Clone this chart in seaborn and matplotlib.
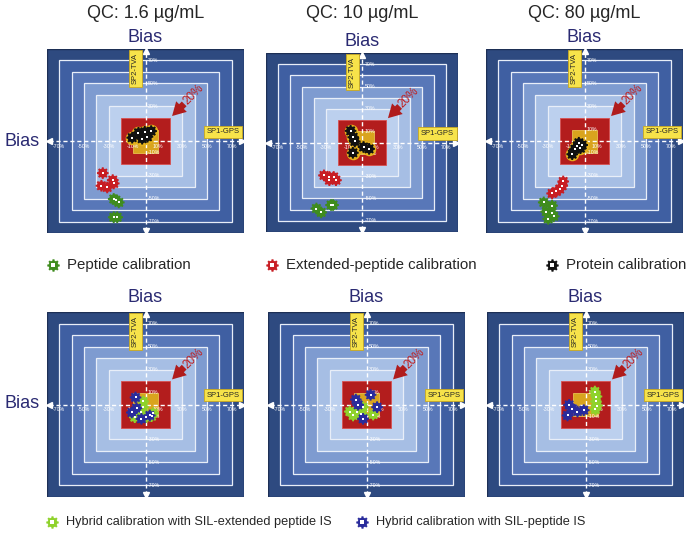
"""
  Bias target plots for the three QC levels, two calibration families
"""

import numpy as np
import matplotlib

matplotlib.use("Agg")
import matplotlib.pyplot as plt
import matplotlib.patches as mpatches
import seaborn as sns
import pandas as pd

W, H = 688, 535

QC_LEVELS = ["QC: 1.6 \u00b5g/mL", "QC: 10 \u00b5g/mL", "QC: 80 \u00b5g/mL"]
TICKS_X = [-70, -50, -30, -10, 10, 30, 50, 70]
TICKS_Y = [70, 50, 30, 10, -10, -30, -50, -70]
BAND_LEVELS = [80, 70, 60, 50, 40, 30]

# top row: peptide / extended-peptide / protein calibration (bias %, SP1-GPS vs SP2-TVA)
PEP_X = [[-25.8, -21.7, -24.0, -25.8, -23.0], [-38.0, -34.0, -25.8, -24.1], [-33.1, -26.3, -31.1, -26.8, -25.0, -29.5]]
PEP_Y = [[-50.4, -53.4, -51.5, -66.3, -66.3], [-59.0, -62.5, -55.9, -55.9], [-53.4, -56.2, -61.4, -62.5, -65.5, -67.7]]
EXT_X = [[-34.7, -26.6, -25.8, -35.8, -31.1], [-31.7, -27.2, -23.6, -21.7, -27.2], [-26.3, -22.8, -20.1, -18.1, -17.3]]
EXT_Y = [[-27.9, -34.0, -36.9, -38.9, -40.4], [-29.4, -30.8, -30.8, -33.7, -33.7], [-45.6, -43.9, -41.8, -38.9, -35.2]]
PROT_X = [[-10.8, -5.7, -0.6, 4.6, -2.7, 1.6], [-9.5, -7.3, -6.0, 1.3, 5.9, -7.6], [-10.0, -7.9, -5.9, -3.3, -4.6, -1.9]]
PROT_Y = [[2.9, 7.2, 8.0, 8.6, 2.0, 3.7], [10.4, 4.7, 0.9, -4.0, -5.7, -9.2], [-11.5, -7.2, -4.3, -6.3, -1.5, -3.5]]

# bottom row: hybrid calibrations
HEXT_X = [[-1.9, -1.9, -3.3, 0.8, 6.2, 4.9, -8.7], [-2.8, -8.1, -10.9, -4.1, 5.4, -13.6], [7.6, 8.9, 8.4, 9.4, 8.1]]
HEXT_Y = [[2.6, -2.3, -6.7, -11.0, -7.5, -10.1, -11.0], [-2.3, -6.1, -9.5, -8.0, -8.7, -6.1], [11.2, 6.9, 2.6, -0.9, -4.3]]
HPEP_X = [[-8.1, -7.3, -11.1, -3.3, 3.5], [3.3, -8.7, -6.8, 8.6, -2.8], [-13.3, -10.6, -6.5, -1.4, -14.6]]
HPEP_Y = [[6.1, -3.2, -6.9, -12.4, -9.5], [8.4, 4.3, -0.3, -2.3, -12.4], [-0.3, -3.7, -6.1, -4.9, -9.5]]

LABELS_TOP = ["Peptide calibration", "Extended-peptide calibration", "Protein calibration"]
LABELS_BOTTOM = ["Hybrid calibration with SIL-extended peptide IS", "Hybrid calibration with SIL-peptide IS"]

COLORS = {
    "Peptide calibration": "#3f8c1e",
    "Extended-peptide calibration": "#c81e24",
    "Protein calibration": "#111111",
    "Hybrid calibration with SIL-extended peptide IS": "#8fd22c",
    "Hybrid calibration with SIL-peptide IS": "#2a2c9c",
}
BAND_COLORS = ["#2e4a80", "#3f5fa2", "#5877b8", "#7e9bd0", "#a6bee4", "#bcd0ee"]
NAVY = "#2a2a72"

# panel boxes in pixels: left, top, width, height
PANELS_TOP = [(47, 49, 197, 184), (266, 53, 192, 179), (486, 49, 197, 184)]
PANELS_BOTTOM = [(47, 312, 197, 185), (268, 312, 197, 185), (487, 312, 197, 185)]


def gear_marker(n=8):
    """Cog-wheel outline used for the calibration symbols"""
    step = 2 * np.pi / n
    pts = []
    for i in range(n):
        a = i * step
        pts += [
            (np.cos(a - 0.2 * step), np.sin(a - 0.2 * step)),
            (np.cos(a + 0.2 * step), np.sin(a + 0.2 * step)),
            (0.78 * np.cos(a + 0.3 * step), 0.78 * np.sin(a + 0.3 * step)),
            (0.78 * np.cos(a + 0.7 * step), 0.78 * np.sin(a + 0.7 * step)),
        ]
    pts.append(pts[0])
    return pts


GEAR = gear_marker()


def add_panel(fig, box):
    x0, y0, w, h = box
    ax = fig.add_axes([x0 / W, 1 - (y0 + h) / H, w / W, h / H])
    ax.set_xlim(-80, 80)
    ax.set_ylim(-80, 80)
    ax.axis("off")

    for lvl, col in zip(BAND_LEVELS, BAND_COLORS):
        edge = "#1d2f55" if lvl == 80 else "#e8eef8"
        ax.add_patch(mpatches.Rectangle((-lvl, -lvl), 2 * lvl, 2 * lvl, facecolor=col,
                                        edgecolor=edge, lw=1.0 if lvl == 80 else 0.9, zorder=1))
    ax.add_patch(mpatches.Rectangle((-20, -20), 40, 40, facecolor="#b31d1d", edgecolor="#d85050", lw=0.6, zorder=2))
    ax.add_patch(mpatches.Rectangle((-10, -10), 20, 20, facecolor="#d9a41e", edgecolor="#e8c050", lw=0.6, zorder=3))

    # dashed cross
    ax.plot([-78, 78], [0, 0], color="white", lw=1.0, ls=(0, (3, 2)), zorder=4)
    ax.plot([0, 0], [-78, 78], color="white", lw=1.0, ls=(0, (3, 2)), zorder=4)
    ax.plot([-78], [0], marker="<", color="white", ms=4, zorder=4)
    ax.plot([78], [0], marker=">", color="white", ms=4, zorder=4)
    ax.plot([0], [-78], marker="v", color="white", ms=4, zorder=4)
    ax.plot([0], [78], marker="^", color="white", ms=4, zorder=4)

    for t in TICKS_X:
        ax.text(t, -4.5, f"{t}%", color="white", fontsize=3.8, ha="center", va="center", zorder=5)
    for t in TICKS_Y:
        ax.text(2, t, f"{t}%", color="white", fontsize=3.8, ha="left", va="center", zorder=5)

    box_style = dict(boxstyle="square,pad=0.35", facecolor="#f7e34a", edgecolor="#c9a820", lw=0.6)
    ax.text(-8, 63, "SP2-TVA", rotation=90, fontsize=5.5, ha="center", va="center", bbox=box_style, zorder=6)
    ax.text(63, 8, "SP1-GPS", fontsize=5.5, ha="center", va="center", bbox=box_style, zorder=6)

    ax.annotate("", xy=(20, 20), xytext=(33, 34),
                arrowprops=dict(arrowstyle="simple,head_width=0.9,head_length=0.8,tail_width=0.4",
                                color="#b01c1c", lw=0), zorder=6)
    ax.text(39, 40, "20%", rotation=45, color="#c02020", fontsize=8.5,
            ha="center", va="center", zorder=6)
    return ax


def draw_points(ax, frame, halo=None):
    if halo is not None:
        sns.scatterplot(data=halo, x="x", y="y", color="#e6b21c", s=95, marker="o",
                        linewidth=0, legend=False, ax=ax, zorder=7)
    sns.scatterplot(data=frame, x="x", y="y", hue="method", palette=COLORS, marker=GEAR,
                    s=70, linewidth=0, legend=False, ax=ax, zorder=8)
    sns.scatterplot(data=frame, x="x", y="y", color="white", marker="s", s=4,
                    linewidth=0, legend=False, ax=ax, zorder=9)
    ax.set_xlabel("")
    ax.set_ylabel("")


def series(xs, ys, name):
    return pd.DataFrame({"x": xs, "y": ys, "method": name})


def main():
    sns.set_theme(style="white")
    plt.rcParams["font.family"] = ["Liberation Sans", "DejaVu Sans"]
    fig = plt.figure(figsize=(W / 100, H / 100), dpi=100)

    for i, box in enumerate(PANELS_TOP):
        ax = add_panel(fig, box)
        frame = pd.concat([
            series(PEP_X[i], PEP_Y[i], LABELS_TOP[0]),
            series(EXT_X[i], EXT_Y[i], LABELS_TOP[1]),
            series(PROT_X[i], PROT_Y[i], LABELS_TOP[2]),
        ])
        draw_points(ax, frame, halo=series(PROT_X[i], PROT_Y[i], LABELS_TOP[2]))

    for i, box in enumerate(PANELS_BOTTOM):
        ax = add_panel(fig, box)
        frame = pd.concat([
            series(HEXT_X[i], HEXT_Y[i], LABELS_BOTTOM[0]),
            series(HPEP_X[i], HPEP_Y[i], LABELS_BOTTOM[1]),
        ])
        draw_points(ax, frame)

    # overlay for titles and legends, in pixel units
    ov = fig.add_axes([0, 0, 1, 1], zorder=-1)
    ov.set_xlim(0, W)
    ov.set_ylim(H, 0)
    ov.axis("off")

    for (x0, y0, w, h), qc in zip(PANELS_TOP, QC_LEVELS):
        cx = x0 + w / 2
        ov.text(cx, 13, qc, fontsize=13, ha="center", va="center")
        ov.text(cx, y0 - 12, "Bias", fontsize=13, color=NAVY, ha="center", va="center")
    for x0, y0, w, h in PANELS_BOTTOM:
        ov.text(x0 + w / 2, y0 - 15, "Bias", fontsize=13, color=NAVY, ha="center", va="center")
    ov.text(22, 141, "Bias", fontsize=13, color=NAVY, ha="center", va="center")
    ov.text(22, 404, "Bias", fontsize=13, color=NAVY, ha="center", va="center")

    legend_rows = [
        (265, 10.8, [(53, LABELS_TOP[0]), (272, LABELS_TOP[1]), (552, LABELS_TOP[2])]),
        (522, 9.2, [(52, LABELS_BOTTOM[0]), (362, LABELS_BOTTOM[1])]),
    ]
    for y, size, items in legend_rows:
        for x, label in items:
            ov.scatter([x], [y], marker=GEAR, s=80, color=COLORS[label], linewidth=0)
            ov.scatter([x], [y], marker="s", s=6, color="white", linewidth=0)
            ov.text(x + 14, y, label, fontsize=size, ha="left", va="center")

    fig.savefig("out.png", dpi=100)


if __name__ == "__main__":
    main()
